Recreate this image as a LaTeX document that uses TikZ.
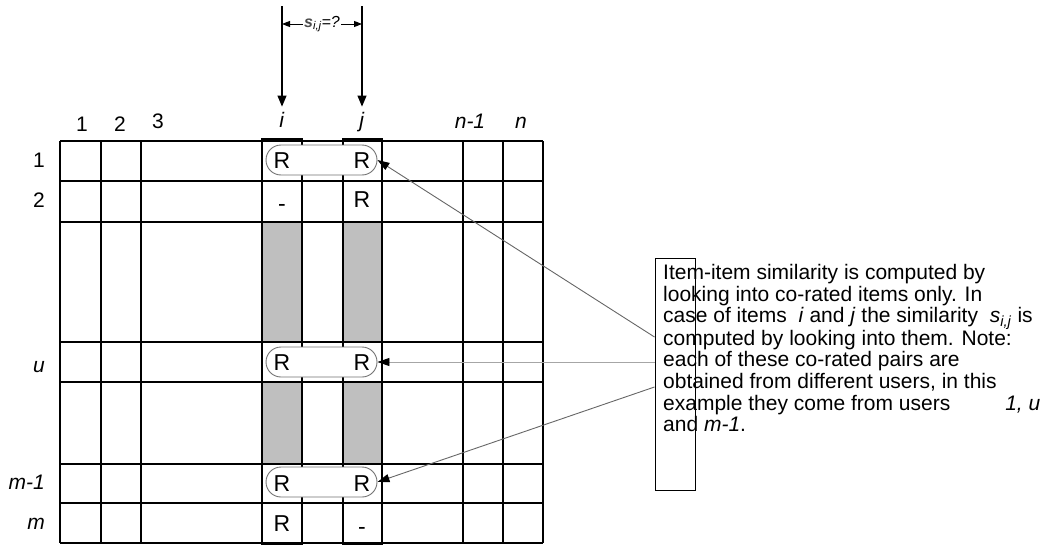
\documentclass[tikz,border=0pt]{standalone}
\usepackage{fontspec}
\setmainfont{Liberation Sans}
\usetikzlibrary{arrows.meta,shapes.misc}

\tikzset{
  grid line/.style={line width=1.1pt},
  item col/.style={line width=1.4pt},
  pairbox/.style={rounded rectangle, draw=black!55, fill=white, line width=0.9pt,
    minimum width=111pt, minimum height=30pt, inner sep=0pt},
  rating/.style={font=\fontsize{23}{23}\selectfont, inner sep=0pt,
    text height=16.5pt, text depth=0pt},
  lbl/.style={font=\fontsize{21}{21}\selectfont, inner sep=1pt},
  pointer/.style={line width=0.9pt, -{Triangle[length=12pt,width=8pt,color=black]}},
  drop/.style={line width=1.2pt, -{Triangle[length=11pt,width=9pt]}, shorten >=4pt},
}

\begin{document}
\begin{tikzpicture}[x=1pt,y=-1pt]
\useasboundingbox (0,0) rectangle (1052,546);

% Blocs grisos de les columnes i i j
\fill[black!25] (262,222) rectangle (302,342) (343,222) rectangle (382,342)
                (262,382) rectangle (302,464) (343,382) rectangle (382,464);

% Graella usuaris x items
\foreach \x in {60,101,141,262,302,343,382,463,503,543}
  \draw[grid line] (\x,141) -- (\x,543);
\foreach \y in {141,181,222,342,382,464,503,543}
  \draw[grid line] (60,\y) -- (543,\y);
\foreach \a/\b in {262/302,343/382}
  \foreach \t/\u in {139/181,181/222,222/342,342/382,382/464,464/503,503/544}
    \draw[item col] (\a,\t) rectangle (\b,\u);

% Etiquetes de columnes
\node[lbl,anchor=base] (c1) at (82,131) {1};
\node[lbl,anchor=base] (c2) at (120,131) {2};
\node[lbl,anchor=base] (c3) at (158,128) {3};
\node[lbl,anchor=base] (ci) at (282,127) {\textit{i}};
\node[lbl,anchor=base] (cj) at (362,127) {\textit{j}};
\node[lbl,anchor=base] (cn1) at (470,128) {\textit{n-1}};
\node[lbl,anchor=base] (cn) at (521,128) {\textit{n}};

% Etiquetes de files
\node[lbl,anchor=base east] (u1) at (46,167) {1};
\node[lbl,anchor=base east] (u2) at (46,207) {2};
\node[lbl,anchor=base east] (uu) at (46,372) {\textit{u}};
\node[lbl,anchor=base east] (um1) at (46,489) {\textit{m-1}};
\node[lbl,anchor=base east] (um) at (46,529) {\textit{m}};

% Fletxes de dalt
\coordinate (topi) at (282,6);
\coordinate (topj) at (362,6);
\draw[drop] (topi) -- (ci.north);
\draw[drop] (topj) -- (cj.north);
\draw[line width=1pt,{Triangle[length=8pt,width=6pt]}-{Triangle[length=8pt,width=6pt]}]
  (topi |- 0,24) -- node[fill=white,inner sep=1pt,font=\fontsize{16}{16}\selectfont] (sij)
  {\textit{\textbf{\color{black!70}s}\textsubscript{i,j}=?}} (topj |- 0,24);

% Parelles co-valorades
\node[pairbox] (pair1) at (321.5,160) {};
\node[pairbox] (pairu) at (321.5,362) {};
\node[pairbox] (pairm1) at (321.5,482) {};

% Valoracions
\node[rating] (r1i) at (282,160) {R};
\node[rating] (r1j) at (362,160) {R};
\node[rating] (r2i) at (282,203) {-};
\node[rating] (r2j) at (362,199) {R};
\node[rating] (rui) at (282,362) {R};
\node[rating] (ruj) at (362,362) {R};
\node[rating] (rm1i) at (282,483) {R};
\node[rating] (rm1j) at (362,483) {R};
\node[rating] (rmi) at (282,523) {R};
\node[rating] (rmj) at (362,526) {-};

% Quadre de text
\node[draw,line width=1pt,minimum width=40pt,minimum height=232pt,inner sep=0pt] (note) at (675,374) {};
\node[anchor=north west,inner sep=0pt,align=left,font=\fontsize{21}{21.6}\selectfont] (notetext) at (663,264)
  {Item-item similarity is computed by\\
   looking into co-rated items only. In\\
   case of items \ \textit{i} and \textit{j} the similarity \ \textit{s}\textsubscript{\textit{i,j}} is\\
   computed by looking into them. Note:\\
   each of these co-rated pairs are\\
   obtained from different users, in this\\
   example they come from users\hspace{55pt}\textit{1, u}\\
   and \textit{m-1}.};

% Connectors
\draw[pointer,draw=black!60] (note.west |- 0,337) -- (pair1.east);
\draw[pointer,draw=black!35] (note.west |- 0,362) -- (pairu.east);
\draw[pointer,draw=black!60] (note.west |- 0,387) -- (pairm1.east);
\end{tikzpicture}
\end{document}
